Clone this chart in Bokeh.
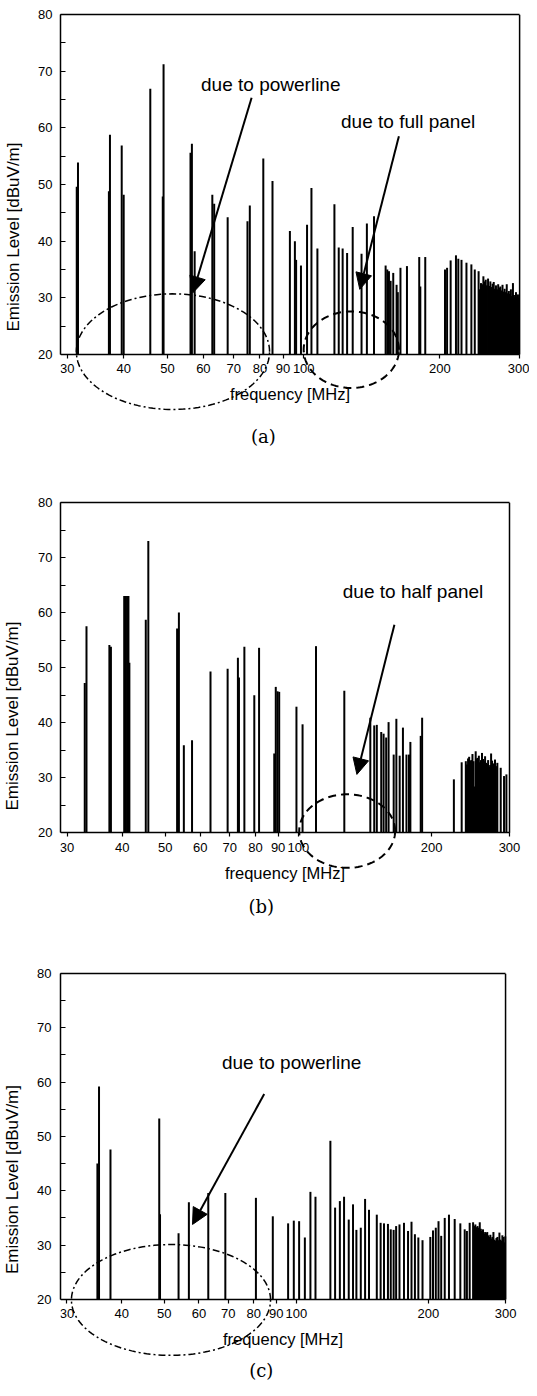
import numpy as np
from bokeh.plotting import figure
from bokeh.layouts import column
from bokeh.models import (Range1d, FixedTicker, PrintfTickFormatter, Arrow, NormalHead,
                          Label, ColumnDataSource, LogAxis)
from bokeh.embed import file_html
from bokeh.resources import INLINE

x_ticks = [30, 40, 50, 60, 70, 80, 90, 100, 200, 300]
y_ticks = [20, 30, 40, 50, 60, 70, 80]
y_minor = [25, 35, 45, 55, 65, 75]
x_label = "frequency [MHz]"
y_label = "Emission Level [dBuV/m]"
floor_level = 20
x_lo, x_hi = 29.0, 300.0
y_top = 80

# ---------------- panel (a) ----------------
a_freq = [31.5, 31.7, 37.1, 37.3, 39.6, 40.0, 45.8, 48.8, 49.0, 56.2, 56.6, 57.4, 62.8, 63.4,
          67.9, 75.1, 76.0, 81.4, 85.3, 93.2, 95.6, 96.2, 98.6, 101.7, 104.0, 107.2, 116.9,
          119.5, 121.9, 124.7, 128.3, 134.2, 137.9, 143.0, 151.7, 153.0, 154.3, 155.6, 157.7,
          160.4, 161.4, 163.6, 169.1, 180.0, 181.0, 185.6, 205.2, 207.4, 211.2, 217.0, 219.6,
          223.2, 228.9, 234.7, 238.8]
a_level = [49.6, 53.9, 48.8, 58.8, 56.9, 48.2, 66.9, 47.9, 71.2, 55.6, 57.2, 38.2, 48.2, 46.6,
           44.2, 43.5, 46.3, 54.6, 50.6, 41.8, 40.0, 36.7, 35.7, 42.9, 49.4, 38.7, 46.5,
           38.9, 38.7, 37.9, 42.5, 37.8, 43.1, 44.4, 35.7, 35.0, 34.7, 33.0, 34.4,
           32.3, 31.0, 35.3, 35.6, 37.2, 32.0, 37.2, 35.0, 35.3, 36.6, 37.5, 36.9,
           36.7, 36.2, 35.9, 35.0]
a_band_freq = [243.5, 245.0, 246.5, 248.0, 249.5, 251.0, 252.5, 254.0, 255.5, 257.0, 258.5,
               260.0, 261.5, 263.0, 264.5, 266.0, 267.5, 269.0, 270.5, 272.0, 273.5, 275.0,
               276.5, 278.0, 279.5, 281.0, 282.5, 284.0, 285.5, 287.0, 288.5, 290.0, 291.5,
               293.0, 294.5, 296.0, 297.5, 299.0]
a_band_level = [34.7, 31.5, 32.6, 32.4, 33.8, 32.9, 33.2, 32.2, 33.4, 32.1, 32.9,
                31.9, 32.5, 32.8, 31.6, 32.2, 31.5, 32.4, 31.8, 32.0, 31.3, 32.3,
                31.1, 31.6, 31.0, 32.4, 30.8, 31.2, 30.7, 31.5, 30.3, 32.6, 30.5,
                30.1, 31.0, 30.2, 30.6, 30.0]

# ---------------- panel (b) ----------------
b_freq = [32.9, 33.2, 37.4, 37.7, 40.4, 40.7, 41.0, 41.3, 41.5, 45.2, 45.8, 53.2, 53.7, 55.1,
          57.5, 63.3, 69.2, 73.0, 73.4, 75.5, 79.5, 81.5, 88.2, 88.9, 89.7, 90.5, 99.0, 102.2,
          109.6, 127.0, 145.4, 148.4, 150.4, 153.9, 155.8, 157.9, 159.9, 164.2, 166.5, 169.4,
          172.3, 175.5, 177.8, 179.1, 189.0, 190.4, 224.6, 233.9, 281.6, 286.6, 291.6, 295.2]
b_level = [47.2, 57.5, 54.1, 53.8, 63.0, 63.0, 63.0, 63.0, 50.9, 58.7, 73.0, 57.1, 60.0, 35.9,
           36.8, 49.3, 49.8, 51.8, 48.2, 53.8, 45.0, 53.6, 34.4, 46.5, 45.7, 45.6, 42.9, 39.7,
           53.9, 45.8, 40.9, 39.5, 39.6, 38.3, 38.0, 37.3, 40.1, 34.2, 40.7, 34.0,
           39.1, 34.2, 34.2, 36.5, 37.6, 40.9, 29.7, 32.8, 32.7, 31.8, 30.3, 30.6]
b_band_freq = [239.0, 240.4, 241.8, 243.2, 244.6, 246.0, 247.4, 248.8, 250.2, 251.6, 253.0,
               254.4, 255.8, 257.2, 258.6, 260.0, 261.4, 262.8, 264.2, 265.6, 267.0, 268.4,
               269.8, 271.2, 272.6, 274.0, 275.4, 276.8, 278.2, 279.6]
b_band_level = [33.0, 32.4, 33.5, 33.8, 33.1, 33.2, 34.3, 33.0, 28.4, 34.8, 33.5,
                33.6, 34.0, 32.8, 33.2, 34.5, 33.4, 33.0, 33.9, 32.7, 32.5, 33.2,
                32.0, 32.3, 34.4, 33.1, 32.6, 32.0, 33.3, 32.1]

# ---------------- panel (c) ----------------
c_freq = [35.2, 35.5, 37.7, 48.7, 48.9, 53.9, 56.9, 63.0, 68.9, 80.9, 88.4, 95.8, 98.7, 101.5,
          104.6, 107.7, 110.6, 119.6, 122.6, 125.7, 128.5, 131.7, 134.7, 137.1, 140.3, 143.5,
          146.5, 152.6, 155.7, 158.5, 161.8, 164.2, 166.7, 168.9, 171.9, 176.0, 179.8, 183.1,
          186.4, 189.8, 194.0, 202.1, 205.0, 208.0, 211.0, 214.0, 218.0, 222.9, 229.7, 236.6,
          242.1, 244.9, 248.5]
c_level = [45.0, 59.2, 47.6, 53.3, 35.7, 32.2, 37.9, 39.6, 39.6, 38.7, 35.3, 34.0, 34.5, 34.4,
           31.4, 39.8, 38.9, 49.2, 36.9, 38.1, 38.9, 34.7, 37.5, 32.8, 33.2, 38.5,
           36.5, 35.6, 34.1, 34.0, 33.9, 32.9, 32.8, 33.5, 33.8, 34.1, 32.6, 34.3,
           32.0, 31.4, 30.9, 31.5, 32.7, 33.2, 34.4, 31.7, 35.0, 35.6, 34.8, 34.0,
           32.9, 32.6, 34.1]
c_band_freq = [253.0, 254.5, 256.0, 257.5, 259.0, 260.5, 262.0, 263.5, 265.0, 266.5, 268.0,
               269.5, 271.0, 272.5, 274.0, 275.5, 277.0, 278.5, 280.0, 281.5, 283.0, 284.5,
               286.0, 287.5, 289.0, 290.5, 292.0, 293.5, 295.0, 296.5, 298.0, 299.5]
c_band_level = [34.2, 33.5, 33.8, 33.3, 33.5, 33.2, 34.2, 33.0, 32.6, 32.9, 32.1,
                32.4, 32.2, 32.4, 31.8, 31.5, 31.9, 31.2, 31.5, 32.4, 31.0, 30.8,
                31.3, 31.5, 30.9, 32.3, 31.0, 30.8, 31.8, 31.5, 30.5, 31.6]

SANS = "Liberation Sans"
FIG_W = 529


def ellipse_pts(fc, half_dec, yc, half_y, n=160):
    t = np.linspace(0, 2 * np.pi, n)
    xs = 10 ** (np.log10(fc) + half_dec * np.cos(t))
    ys = yc + half_y * np.sin(t)
    return list(xs), list(ys)


def make_panel(freq, level, band_f, band_l, H, T, L, box_w, y_low,
               yl_standoff, xl_standoff, ylab_standoff):
    # The frame reaches below the 20 dB line and past 300 MHz so that the
    # annotation ellipses and the last tick label are not clipped; the visible
    # plot box (20..80 dB, 29..300 MHz) is drawn with bounded axes.
    frame_w = FIG_W - L
    x_end = 10 ** (np.log10(x_lo) + np.log10(x_hi / x_lo) * frame_w / box_w)
    p = figure(width=FIG_W, height=H, x_axis_type="log",
               x_range=Range1d(x_lo, x_end), y_range=Range1d(y_low, y_top),
               output_backend="svg", toolbar_location=None,
               min_border_left=L, min_border_right=0, min_border_top=T, min_border_bottom=0)
    p.xgrid.visible = False
    p.ygrid.visible = False
    p.outline_line_color = None
    p.background_fill_color = "white"
    p.border_fill_color = "white"

    f_all = list(freq) + list(band_f)
    l_all = list(level) + list(band_l)
    src = ColumnDataSource(dict(f=f_all, lv=l_all, base=[floor_level] * len(f_all)))
    p.segment(x0="f", y0="base", x1="f", y1="lv", source=src,
              line_color="black", line_width=2.0)

    xa = p.xaxis[0]
    xa.fixed_location = floor_level
    xa.bounds = (x_lo, x_hi)
    xa.ticker = FixedTicker(ticks=x_ticks, minor_ticks=[])
    xa.formatter = PrintfTickFormatter(format="%d")
    xa.major_tick_in = 0
    xa.major_tick_out = 4
    xa.axis_line_width = 1.5
    xa.major_tick_line_width = 1.2
    xa.major_label_text_font = SANS
    xa.major_label_text_font_size = "13px"
    xa.major_label_text_color = "black"
    xa.major_label_standoff = 6
    xa.axis_label = x_label
    xa.axis_label_text_font = SANS
    xa.axis_label_text_font_size = "16.5px"
    xa.axis_label_text_font_style = "normal"
    xa.axis_label_text_color = "black"
    xa.axis_label_standoff = xl_standoff

    ya = p.yaxis[0]
    ya.bounds = (floor_level, y_top)
    ya.ticker = FixedTicker(ticks=y_ticks, minor_ticks=y_minor)
    ya.major_tick_in = 5
    ya.major_tick_out = 0
    ya.minor_tick_in = 5
    ya.minor_tick_out = 0
    ya.axis_line_width = 1.5
    ya.major_tick_line_width = 1.2
    ya.minor_tick_line_width = 1.2
    ya.major_label_text_font = SANS
    ya.major_label_text_font_size = "13px"
    ya.major_label_text_color = "black"
    ya.major_label_standoff = yl_standoff
    ya.axis_label = y_label
    ya.axis_label_text_font = SANS
    ya.axis_label_text_font_size = "17px"
    ya.axis_label_text_font_style = "normal"
    ya.axis_label_text_color = "black"
    ya.axis_label_standoff = ylab_standoff

    # top edge of the box
    top = LogAxis(ticker=FixedTicker(ticks=[]), bounds=(x_lo, x_hi),
                  major_tick_in=0, major_tick_out=0, minor_tick_in=0, minor_tick_out=0,
                  axis_line_width=1.5, major_label_text_font_size="0px")
    p.add_layout(top, "above")
    # right edge of the box
    p.segment(x0=[x_hi], y0=[floor_level], x1=[x_hi], y1=[y_top],
              line_color="black", line_width=1.5)
    return p


def add_label(p, x, y, text):
    p.add_layout(Label(x=x, y=y, text=text, text_font=SANS, text_font_size="19px",
                       text_align="left", text_baseline="middle", text_color="black"))


def add_caption(p, x, y, text):
    p.add_layout(Label(x=x, y=y, text=text, text_font="DejaVu Serif", text_font_size="18px",
                       text_align="center", text_baseline="middle", text_color="black"))


def add_arrow(p, xs, ys, xe, ye):
    p.add_layout(Arrow(end=NormalHead(size=16, fill_color="black", line_color="black"),
                       x_start=xs, y_start=ys, x_end=xe, y_end=ye,
                       line_color="black", line_width=2.0))


def add_ellipse(p, fc, half_dec, yc, half_y, dash, width):
    xs, ys = ellipse_pts(fc, half_dec, yc, half_y)
    p.line(xs, ys, line_color="black", line_width=width, line_dash=dash)


# (a)
pa = make_panel(a_freq, a_level, a_band_freq, a_band_level,
                H=459, T=14, L=55, box_w=464, y_low=1.47,
                yl_standoff=8, xl_standoff=8, ylab_standoff=12)
add_label(pa, 59.3, 67.6, "due to powerline")
add_label(pa, 120.9, 61.2, "due to full panel")
add_arrow(pa, 76.7, 65.3, 56.9, 30.9)
add_arrow(pa, 162.3, 58.5, 133.0, 31.5)
add_ellipse(pa, 51.4, 0.2135, 20.5, 10.2, "7 3 2 3", 1.5)
add_ellipse(pa, 127.4, 0.1053, 20.85, 6.75, "8 5", 2.0)
add_caption(pa, 81.4, 5.5, "(a)")

# (b)
pb = make_panel(b_freq, b_level, b_band_freq, b_band_level,
                H=470, T=43, L=60, box_w=449, y_low=2.42,
                yl_standoff=8, xl_standoff=9, ylab_standoff=13)
add_label(pb, 126.0, 63.9, "due to half panel")
add_arrow(pb, 164.8, 57.8, 135.6, 30.6)
add_ellipse(pb, 128.9, 0.1084, 20.3, 6.68, "8 5", 2.0)
add_caption(pb, 82.4, 6.6, "(b)")

# (c)
pc = make_panel(c_freq, c_level, c_band_freq, c_band_level,
                H=456, T=44, L=59, box_w=446, y_low=4.15,
                yl_standoff=9, xl_standoff=8, ylab_standoff=12)
add_label(pc, 67.7, 63.6, "due to powerline")
add_arrow(pc, 84.5, 57.8, 58.0, 33.8)
add_ellipse(pc, 51.8, 0.227, 19.9, 10.2, "7 3 2 3", 1.5)
add_caption(pc, 83.2, 7.0, "(c)")

layout = column(pa, pb, pc, spacing=0)
open("out.html", "w").write(file_html(layout, INLINE))
